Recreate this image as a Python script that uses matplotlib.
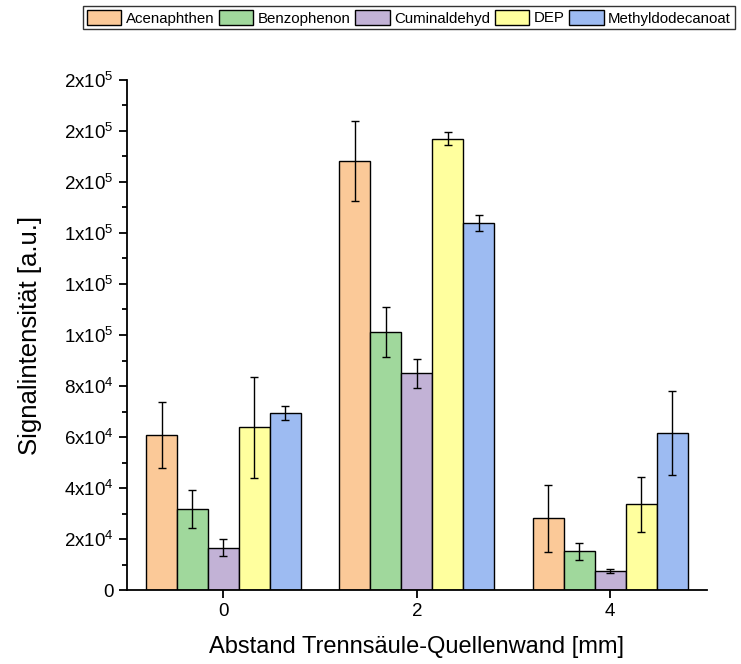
import numpy as np
import matplotlib
matplotlib.use("Agg")
import matplotlib.pyplot as plt
from matplotlib.ticker import FuncFormatter, MultipleLocator

plt.rcParams.update({
    "font.family": ["Liberation Sans", "DejaVu Sans"],
    "mathtext.fontset": "custom",
    "mathtext.rm": "Liberation Sans",
    "mathtext.it": "Liberation Sans",
})

distances = [0, 2, 4]
compounds = ["Acenaphthen", "Benzophenon", "Cuminaldehyd", "DEP", "Methyldodecanoat"]
colors = ["#FBC998", "#A0D89C", "#C2B2D6", "#FFFF9E", "#9DBBF2"]

acenaphthen = [60800, 168300, 28200]
benzophenon = [31900, 101200, 15200]
cuminaldehyd = [16700, 85000, 7700]
dep = [63800, 176900, 33700]
methyldodecanoat = [69300, 143800, 61700]

err_acenaphthen = [13000, 15700, 13200]
err_benzophenon = [7450, 9800, 3200]
err_cuminaldehyd = [3200, 5600, 750]
err_dep = [19700, 2600, 10800]
err_methyldodecanoat = [2700, 3200, 16500]

values = [acenaphthen, benzophenon, cuminaldehyd, dep, methyldodecanoat]
errors = [err_acenaphthen, err_benzophenon, err_cuminaldehyd, err_dep, err_methyldodecanoat]

fig = plt.figure(figsize=(7.41, 6.64), dpi=100)
ax = fig.add_axes([0.171, 0.111, 0.783, 0.769])

width = 0.32
x = np.array(distances, dtype=float)
for i, (name, vals, errs, c) in enumerate(zip(compounds, values, errors, colors)):
    pos = x + (i - 2) * width
    ax.bar(pos, vals, width=width, color=c, edgecolor="black", linewidth=1.0,
           label=name, zorder=2)
    ax.errorbar(pos, vals, yerr=errs, fmt="none", ecolor="black", elinewidth=1.0,
                capsize=3.2, capthick=1.0, zorder=3)

ax.set_xlim(-1, 5)
ax.set_ylim(0, 200000)
ax.xaxis.set_major_locator(MultipleLocator(2))
ax.yaxis.set_major_locator(MultipleLocator(20000))
ax.yaxis.set_minor_locator(MultipleLocator(10000))


def sci_fmt(v, pos):
    if v <= 0:
        return "0" if v == 0 else ""
    e = int(np.floor(np.log10(v)))
    m = int(round(v / 10 ** e))
    return r"%dx10$^{%d}$" % (m, e)


ax.yaxis.set_major_formatter(FuncFormatter(sci_fmt))
ax.xaxis.set_major_formatter(FuncFormatter(lambda v, p: "%d" % v))

for s in ["top", "right"]:
    ax.spines[s].set_visible(False)
for s in ["left", "bottom"]:
    ax.spines[s].set_linewidth(1.3)

ax.tick_params(axis="both", which="major", direction="out", length=6, width=1.3,
               labelsize=13.5)
ax.tick_params(axis="y", which="minor", direction="out", length=3.5, width=1.3)

ax.set_xlabel("Abstand Trennsäule-Quellenwand [mm]", fontsize=17, labelpad=11)
ax.set_ylabel("Signalintensität [a.u.]", fontsize=18.5, labelpad=16)

fig.legend(loc="upper left", bbox_to_anchor=(83 / 741, 1 - 6 / 664), ncol=5,
           fontsize=10.8, frameon=True, fancybox=False, edgecolor="black",
           handlelength=2.3, handleheight=1.2, handletextpad=0.3,
           columnspacing=0.3, borderpad=0.25, borderaxespad=0)

fig.savefig("out.png", dpi=100)
